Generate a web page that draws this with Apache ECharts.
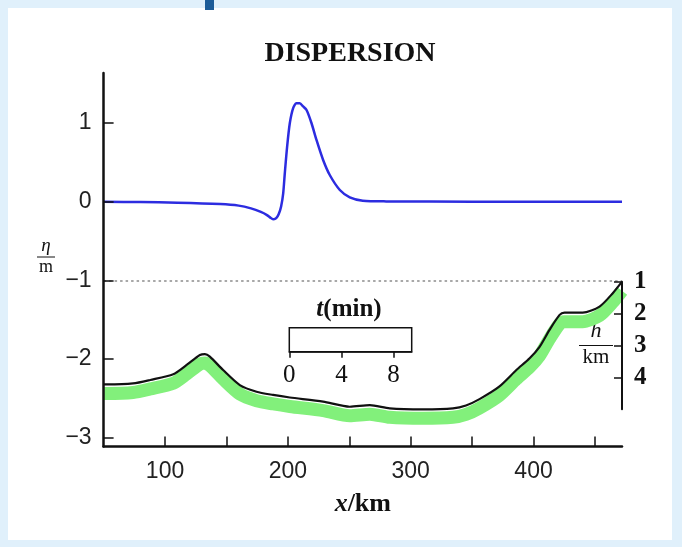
<!DOCTYPE html>
<html><head><meta charset="utf-8">
<script src="https://cdn.jsdelivr.net/npm/echarts@6/dist/echarts.min.js"></script>
<style>
html,body{margin:0;padding:0;background:#e0f0fb;}
#wrap{position:relative;width:682px;height:547px;overflow:hidden;background:#e0f0fb;}
#inner{position:absolute;left:8px;top:8px;width:664px;height:532px;background:#fff;}
#tab{position:absolute;left:205px;top:0;width:9px;height:10px;background:#1d5c98;}
#chart{position:absolute;left:0;top:0;width:682px;height:547px;}
</style></head><body>
<div id="wrap"><div id="inner"></div><div id="tab"></div><div id="chart"></div></div>
<script>
// surface elevation eta (m) versus x (km)
const etaX = [50, 80, 110, 145, 160, 170, 178, 183, 186, 188.5, 190.5, 192.5, 194.5, 196.2, 197.5, 199.4, 201.6, 204.3, 207, 209.7, 212.4, 215.2, 219.2, 223.3, 228.7, 234.1, 242.3, 250.4, 261, 280, 350, 472];
const etaValues = [0, -0.005, -0.012, -0.03, -0.05, -0.085, -0.13, -0.17, -0.205, -0.224, -0.21, -0.16, -0.06, 0.107, 0.36, 0.70, 1.0, 1.19, 1.25, 1.25, 1.21, 1.165, 1.0, 0.784, 0.53, 0.339, 0.149, 0.056, 0.013, 0.004, 0, 0];
// sea-floor depth h (km) versus x (km)
const floorX = [50, 52.5, 74, 88, 106.7, 117.6, 128.4, 132.5, 136.5, 147.3, 160.9, 174.5, 188, 201.6, 228.7, 250.4, 266.7, 282.9, 310, 334.4, 345, 356, 372, 386, 396.8, 404.9, 413, 421.2, 425.2, 440, 453.7, 464.5, 472];
const floorDepthKm = [4.22, 4.22, 4.19, 4.08, 3.90, 3.61, 3.30, 3.27, 3.35, 3.77, 4.24, 4.45, 4.55, 4.63, 4.76, 4.92, 4.87, 4.97, 5.0, 4.97, 4.88, 4.68, 4.29, 3.77, 3.40, 3.04, 2.51, 2.04, 1.97, 1.97, 1.78, 1.36, 1.0];
// axes
const etaTicks = [-3, -2, -1, 0, 1];
const xTickValues = [100, 150, 200, 250, 300, 350, 400, 450];
const xLabelValues = [100, 200, 300, 400];
const depthTicks = [1, 2, 3, 4];
const timeTicks = [0, 4, 8];
const referenceLevel = -1;
const titleText = 'DISPERSION';

const etaData = etaX.map((x, i) => [x, etaValues[i]]);
const floorData = floorX.map((x, i) => [x, floorDepthKm[i]]);

const SERIF = '"Liberation Serif", "DejaVu Serif", serif';
const SANS = '"Liberation Sans", Arial, sans-serif';
const AX = {color: '#111', width: 2.5};

const chart = echarts.init(document.getElementById('chart'), null, {renderer: 'canvas'});
chart.setOption({
  animation: false,
  backgroundColor: 'transparent',
  title: {
    text: titleText, left: 345, top: 35, textAlign: 'center',
    textStyle: {fontFamily: SERIF, fontWeight: 'bold', fontSize: 28, color: '#111'}
  },
  grid: [
    {left: 103.6, right: 60, top: 73, bottom: 100.5},
    {left: 103.6, right: 60, top: 281.7, height: 127.6},
    {left: 103.6, right: 60, top: 290.7, height: 127.6},
    {left: 289.3, top: 327.7, width: 122.4, height: 24, show: true, borderColor: '#111', borderWidth: 1.5, backgroundColor: '#fff', z: 4}
  ],
  xAxis: [
    {gridIndex: 0, type: 'value', min: 50, max: 472, z: 6,
     axisLine: {show: true, onZero: false, lineStyle: AX},
     axisTick: {show: true, inside: true, length: 10, customValues: xTickValues, lineStyle: {color: '#111', width: 1.5}},
     axisLabel: {customValues: xLabelValues, margin: 14, fontFamily: SANS, fontSize: 23, color: '#222'},
     splitLine: {show: false},
     name: '{i|x}{b|/km}', nameLocation: 'middle', nameGap: 45,
     nameTextStyle: {rich: {
       i: {fontFamily: SERIF, fontStyle: 'italic', fontWeight: 'bold', fontSize: 26, color: '#111'},
       b: {fontFamily: SERIF, fontWeight: 'bold', fontSize: 26, color: '#111'}}}},
    {gridIndex: 1, type: 'value', min: 50, max: 472, show: false},
    {gridIndex: 2, type: 'value', min: 50, max: 472, show: false},
    {gridIndex: 3, type: 'value', min: 0, max: 9.4, z: 6,
     axisLine: {show: true, lineStyle: {color: '#111', width: 1.5}},
     axisTick: {show: true, inside: false, length: 6, customValues: timeTicks, lineStyle: {color: '#111', width: 1.5}},
     axisLabel: {customValues: timeTicks, margin: 11, fontFamily: SERIF, fontSize: 25, color: '#111'},
     splitLine: {show: false}}
  ],
  yAxis: [
    {gridIndex: 0, type: 'value', min: -3.11, max: 1.635, z: 6,
     axisLine: {show: true, onZero: false, lineStyle: AX},
     axisTick: {show: true, inside: true, length: 10, customValues: etaTicks, lineStyle: {color: '#111', width: 1.5}},
     axisLabel: {customValues: etaTicks, margin: 12, fontFamily: SANS, fontSize: 23, color: '#222',
       formatter: v => String(v).replace('-', '\u2212')},
     splitLine: {show: false}},
    {gridIndex: 1, type: 'value', min: 1, max: 5, inverse: true, position: 'right', z: 6,
     axisLine: {show: true, onZero: false, lineStyle: {color: '#111', width: 2}},
     axisTick: {show: true, inside: true, length: 8, customValues: depthTicks, lineStyle: {color: '#111', width: 1.5}},
     axisLabel: {customValues: depthTicks, margin: 12, fontFamily: SERIF, fontWeight: 'bold', fontSize: 25, color: '#111'},
     splitLine: {show: false}},
    {gridIndex: 2, type: 'value', min: 1, max: 5, inverse: true, show: false},
    {gridIndex: 3, type: 'value', min: 0, max: 1, show: false}
  ],
  graphic: [
    {type: 'text', x: 46, y: 236, style: {text: 'η', align: 'center', font: 'italic 19px ' + SERIF, fill: '#111'}},
    {type: 'line', shape: {x1: 37, y1: 257, x2: 55, y2: 257}, style: {stroke: '#111', lineWidth: 1}},
    {type: 'text', x: 46, y: 258, style: {text: 'm', align: 'center', font: '18px ' + SERIF, fill: '#111'}},
    {type: 'text', x: 596, y: 320, style: {text: 'h', align: 'center', font: 'italic 22px ' + SERIF, fill: '#111'}},
    {type: 'line', shape: {x1: 579, y1: 345.5, x2: 613, y2: 345.5}, style: {stroke: '#111', lineWidth: 1}},
    {type: 'text', x: 596, y: 347, style: {text: 'km', align: 'center', font: '21px ' + SERIF, fill: '#111'}},
    {type: 'text', x: 349, y: 297, z: 10, style: {text: '{i|t}{b|(min)}', align: 'center',
      rich: {i: {fontFamily: SERIF, fontStyle: 'italic', fontWeight: 'bold', fontSize: 25, fill: '#111'},
             b: {fontFamily: SERIF, fontWeight: 'bold', fontSize: 25, fill: '#111'}}}}
  ],
  series: [
    {type: 'line', name: 'eta', xAxisIndex: 0, yAxisIndex: 0, data: etaData, showSymbol: false,
     smooth: 0.25, z: 3,
     lineStyle: {color: '#2c2ce0', width: 2.5},
     markLine: {silent: true, symbol: ['none', 'none'], label: {show: false},
       lineStyle: {color: '#a8a8a8', width: 2, type: [2.5, 3]},
       data: [{yAxis: referenceLevel}]}},
    {type: 'line', name: 'floorShade', xAxisIndex: 2, yAxisIndex: 2, data: floorData, showSymbol: false,
     smooth: 0.25, clip: false, z: 2,
     lineStyle: {color: '#82f07b', width: 13, cap: 'butt', join: 'round'}},
    {type: 'line', name: 'floor', xAxisIndex: 1, yAxisIndex: 1, data: floorData, showSymbol: false,
     smooth: 0.25, clip: false, z: 3,
     lineStyle: {color: '#111', width: 2.2}}
  ]
});
</script>
</body></html>
